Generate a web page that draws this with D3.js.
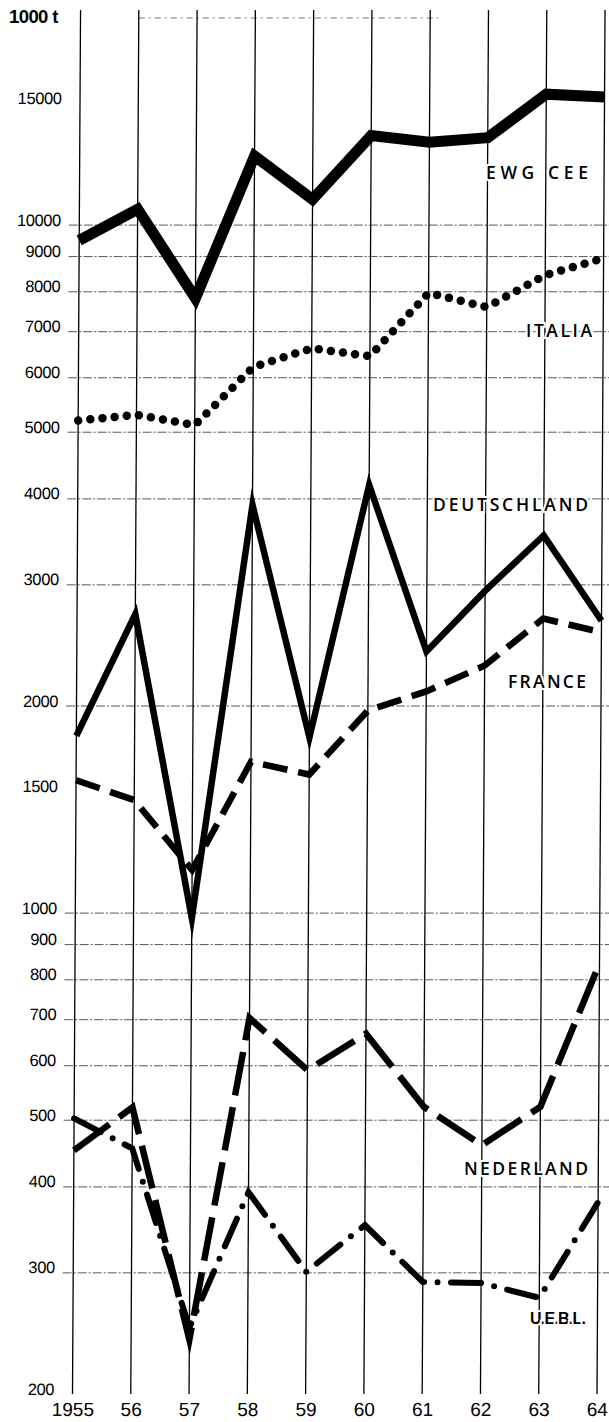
<!DOCTYPE html>
<html>
<head>
<meta charset="utf-8">
<script src="https://cdn.jsdelivr.net/npm/d3@7"></script>
<style>
  html, body { margin: 0; padding: 0; background: #fff; }
  svg { display: block; }
</style>
</head>
<body>
<svg id="chart" width="609" height="1422"></svg>
<script>
// values in 1000 t
const years = [1955, 1956, 1957, 1958, 1959, 1960, 1961, 1962, 1963, 1964];
const yearLabels = ["1955", "56", "57", "58", "59", "60", "61", "62", "63", "64"];
const tickValues = [15000, 10000, 9000, 8000, 7000, 6000, 5000, 4000, 3000, 2000, 1500,
                    1000, 900, 800, 700, 600, 500, 400, 300, 200];
const gridValues = [10000, 9000, 8000, 7000, 6000, 5000, 4000, 3000, 2000,
                    1000, 900, 800, 700, 600, 500, 400, 300];

const ewgCee      = [9500, 10550, 7830, 12600, 10900, 13500, 13200, 13400, 15500, 15350];
const italia      = [5200, 5300, 5120, 6220, 6620, 6450, 7970, 7600, 8460, 8950];
const deutschland = [1810, 2720, 983, 3920, 1800, 4190, 2400, 2940, 3540, 2660];
const france      = [1560, 1460, 1155, 1660, 1590, 1970, 2100, 2290, 2680, 2560];
const nederland   = [452, 522, 240, 704, 591, 668, 523, 460, 523, 845];
const uebl        = [503, 455, 250, 393, 301, 352, 291, 290, 276, 380];

const seriesNames = ["EWG CEE", "ITALIA", "DEUTSCHLAND", "FRANCE", "NEDERLAND", "U.E.B.L."];
const seriesValues = [ewgCee, italia, deutschland, france, nederland, uebl];

// line styles + label placement
const styles = {
  "EWG CEE":     { width: 11,  dash: null,             cap: "butt",  lx: 486, ly: 179,  lw: 102 },
  "ITALIA":      { width: 8.5, dash: "0,12.2",         cap: "round", lx: 526, ly: 337,  lw: 66 },
  "DEUTSCHLAND": { width: 6.5, dash: null,             cap: "butt",  lx: 433, ly: 511,  lw: 155 },
  "FRANCE":      { width: 6.5, dash: "25,11",          cap: "butt",  lx: 508, ly: 688,  lw: 78 },
  "NEDERLAND":   { width: 6.5, dash: "44,12",          cap: "butt",  lx: 464, ly: 1175, lw: 124 },
  "U.E.B.L.":    { width: 6,   dash: "30,13.5,0,13.5", cap: "round", lx: 530, ly: 1324, lw: 56, narrow: true }
};

const svg = d3.select("#chart");

const x = d3.scaleLinear().domain([1955, 1964]).range([72.5, 597]);
const y = d3.scaleLog().domain([200, 20000]).range([1394, 18]);

// the printed grid leans slightly to the right towards the top
const plot = svg.append("g")
    .attr("transform", "translate(0,1394) skewX(-0.333) translate(0,-1394)");

// horizontal grid
plot.append("g").selectAll("line")
    .data(gridValues)
    .join("line")
    .attr("x1", 62).attr("x2", 615)
    .attr("y1", d => y(d)).attr("y2", d => y(d))
    .attr("stroke", "#444")
    .attr("stroke-width", 0.9)
    .attr("stroke-dasharray", "9,2,2,2");

plot.append("line")
    .attr("x1", x(1956)).attr("x2", x(1962) - 50)
    .attr("y1", y(20000)).attr("y2", y(20000))
    .attr("stroke", "#555")
    .attr("stroke-width", 0.8)
    .attr("stroke-dasharray", "6,4,2,4");

// vertical grid
plot.append("g").selectAll("line")
    .data(years)
    .join("line")
    .attr("x1", d => x(d)).attr("x2", d => x(d))
    .attr("y1", 10).attr("y2", 1394)
    .attr("stroke", "#000")
    .attr("stroke-width", 1.3);

// y axis labels
const yAxis = d3.axisLeft(y)
    .tickValues(tickValues)
    .tickFormat(d3.format("d"))
    .tickSize(0)
    .tickPadding(0);

const yg = plot.append("g")
    .attr("transform", "translate(54,0)")
    .call(yAxis);
yg.select(".domain").remove();
yg.selectAll("text")
    .attr("dy", 0)
    .attr("fill", "#000")
    .style("font-family", "'Liberation Sans', Arial, sans-serif")
    .style("font-size", "16.5px")
    .style("letter-spacing", "-0.4px");

// x axis labels
const xAxis = d3.axisBottom(x)
    .tickValues(years)
    .tickFormat((d, i) => yearLabels[i])
    .tickSize(0)
    .tickPadding(0);

const xg = plot.append("g")
    .attr("transform", "translate(0,1403)")
    .call(xAxis);
xg.select(".domain").remove();
xg.selectAll("text")
    .attr("dy", "0.71em")
    .attr("fill", "#000")
    .style("font-family", "'Liberation Sans', Arial, sans-serif")
    .style("font-size", "19px");

// series
const line = d3.line()
    .x((d, i) => x(years[i]))
    .y(d => y(d));

seriesNames.forEach((name, k) => {
    const s = styles[name];
    plot.append("path")
        .datum(seriesValues[k])
        .attr("d", line)
        .attr("fill", "none")
        .attr("stroke", "#000")
        .attr("stroke-width", s.width)
        .attr("stroke-linejoin", "miter")
        .attr("stroke-miterlimit", 20)
        .attr("stroke-linecap", s.cap)
        .attr("stroke-dasharray", s.dash);
});

// series labels
seriesNames.forEach(name => {
    const s = styles[name];
    svg.append("text")
        .attr("x", s.lx)
        .attr("y", s.ly)
        .attr("textLength", s.lw)
        .attr("lengthAdjust", "spacing")
        .attr("fill", "#000")
        .attr("stroke", "#fff")
        .attr("stroke-width", 4)
        .attr("paint-order", "stroke")
        .style("font-family", s.narrow ? "'Liberation Sans Narrow', 'Liberation Sans', sans-serif" : "'Open Sans', sans-serif")
        .style("font-weight", s.narrow ? 700 : 600)
        .style("font-size", s.narrow ? "16px" : "17.5px")
        .text(name);
});

// unit
svg.append("text")
    .attr("x", 9)
    .attr("y", 23)
    .attr("fill", "#000")
    .style("font-family", "'Liberation Sans', Arial, sans-serif")
    .style("font-weight", 700)
    .style("font-size", "18.5px")
    .style("letter-spacing", "-0.6px")
    .text("1000 t");
</script>
</body>
</html>
